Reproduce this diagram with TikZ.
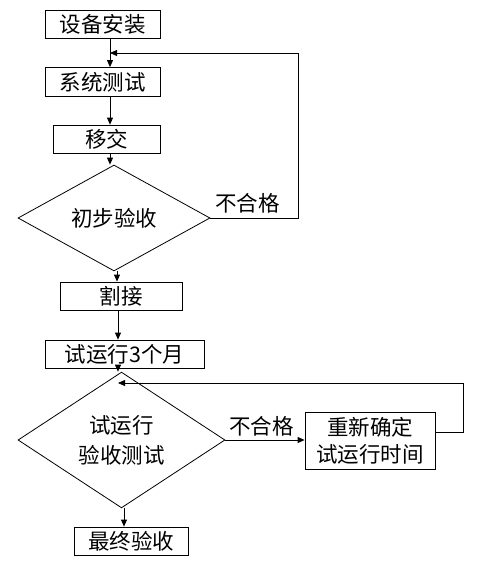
\documentclass[tikz,border=0pt]{standalone}
\usepackage{fontspec}
\setmainfont{Noto Sans CJK SC}
\usetikzlibrary{shapes.geometric,arrows.meta}
\begin{document}
\begin{tikzpicture}[x=1pt,y=-1pt,
  font=\fontsize{21.5}{30}\selectfont,
  every path/.style={line width=0.8pt},
  box/.style={draw,rectangle,inner sep=0pt,align=center},
  dia/.style={draw,diamond,inner sep=0pt,align=center},
  arr/.style={-{Triangle[length=7pt,width=6pt]}},
  lbl/.style={inner sep=0pt}]
\useasboundingbox (0,0) rectangle (481,565);
\node[box,minimum width=115pt,minimum height=28pt] (b1) at (102.5,24) {设备安装};
\node[box,minimum width=115pt,minimum height=29pt] (b2) at (102.5,82) {系统测试};
\node[box,minimum width=107pt,minimum height=28pt] (b3) at (106.5,139) {移交};
\node[dia,minimum width=192pt,minimum height=72pt] (d1) at (114,218) {初步验收};
\node[box,minimum width=122pt,minimum height=28pt] (b4) at (121,296) {割接};
\node[box,minimum width=159pt,minimum height=28pt] (b5) at (124.5,354) {试运行3个月};
\node[dia,minimum width=207pt,minimum height=85pt] (d2) at (121.5,440) {试运行\\验收测试};
\node[box,minimum width=130pt,minimum height=57pt,font=\fontsize{21.5}{27}\selectfont] (b6) at (370,440.5) {重新确定\\试运行时间};
\node[box,minimum width=114pt,minimum height=28pt] (b7) at (131,541) {最终验收};
\node[lbl] (n1) at (247.5,203) {不合格};
\node[lbl] (n2) at (261.5,426) {不合格};
\coordinate (c1) at (110,0);
\coordinate (c2) at (117,0);
\coordinate (c3) at (118,0);
\coordinate (c4) at (124,0);
\coordinate (r1) at (298,53);
\coordinate (r2) at (463,383);
\draw[arr] (b1.south -| c1) -- (b2.north -| c1);
\draw[arr] (b2.south -| c1) -- (b3.north -| c1);
\draw[arr] (b3.south -| c1) -- (d1.north -| c1);
\draw[arr] (d1.south -| c2) -- (b4.north -| c2);
\draw[arr] (b4.south -| c3) -- (b5.north -| c3);
\draw[arr] (b5.south -| c3) -- (d2.north -| c3);
\draw[arr] (d2.south -| c4) -- (b7.north -| c4);
\draw[arr] (d1.east) -- (d1.east -| r1) -- (r1) -- (r1 -| c1);
\draw[arr] (d2.east) -- (b6.west |- d2.east);
\draw[arr] (b6.east |- 0,432) -- (r2 |- 0,432) -- (r2) -- (r2 -| c3);
\end{tikzpicture}
\end{document}
